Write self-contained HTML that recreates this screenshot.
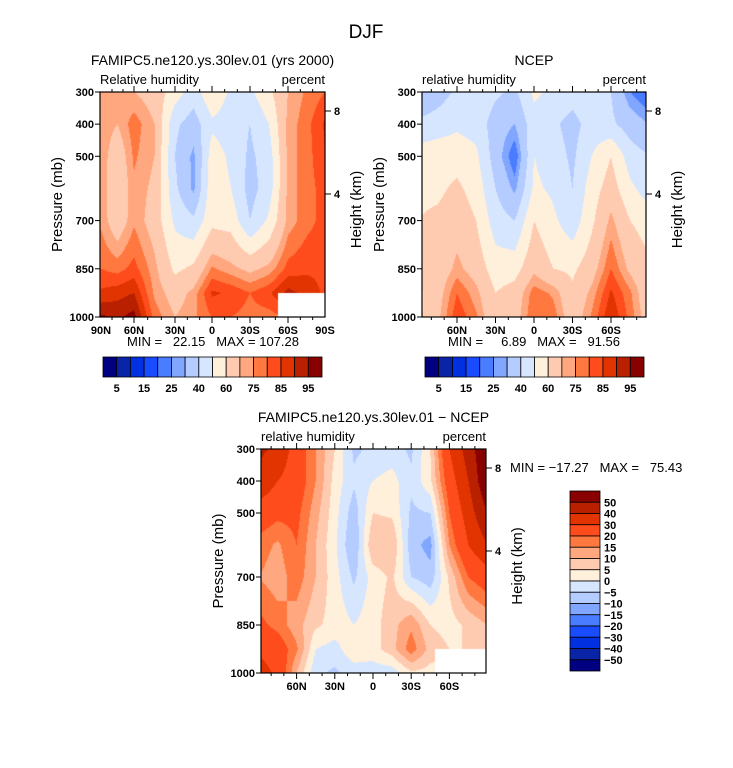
<!DOCTYPE html>
<html><head><meta charset="utf-8"><style>
body{margin:0;background:#fff;width:733px;height:768px;overflow:hidden;position:relative;font-family:"Liberation Sans",sans-serif}
canvas{position:absolute}
svg{position:absolute;left:0;top:0}
text{font-family:"Liberation Sans",sans-serif;fill:#000}
.pre{white-space:pre}
</style></head><body>
<canvas id="c1" width="225" height="225" style="left:100px;top:92px"></canvas>
<canvas id="c2" width="224" height="225" style="left:422px;top:92px"></canvas>
<canvas id="c3" width="225" height="224" style="left:261px;top:449px"></canvas>
<svg id="svg" width="733" height="768"></svg>
<script>
// ---- data ----
const lats = [90,75,60,45,30,15,0,-15,-30,-45,-60,-75,-90];
const levels = [300,400,500,600,700,850,925,1000];
const modelRH = [
 [74,72,70,66,55,45,58,48,48,58,70,76,80],
 [74,70,78,70,42,35,48,45,40,50,72,78,86],
 [74,64,76,70,40,28,55,48,38,45,72,78,84],
 [74,62,74,68,42,28,57,50,36,45,72,78,82],
 [74,64,74,66,48,42,57,56,40,52,72,78,82],
 [80,78,82,72,58,62,76,72,68,72,82,84,84],
 [86,88,90,74,66,72,86,84,80,84,92,88,84],
 [96,94,97,78,70,74,80,80,78,78,80,80,80]];
const ncepRH = [
 [30,35,42,48,42,38,52,48,45,50,40,25,18],
 [42,45,48,46,35,30,46,42,36,45,42,35,30],
 [55,56,56,52,35,20,50,45,38,50,60,45,40],
 [58,58,62,56,40,28,52,48,40,55,65,52,45],
 [60,62,66,60,45,40,60,52,44,58,72,60,55],
 [62,64,72,66,55,56,68,60,58,66,80,68,62],
 [58,66,80,72,60,64,78,74,62,72,86,76,62],
 [58,68,84,76,62,66,80,78,64,76,90,78,64]];
const diffRH = [
 [42,38,25,15,5,-6,-4,-3,-6,5,30,45,60],
 [38,30,25,15,3,-4,0,2,-4,4,25,40,60],
 [25,22,22,12,2,-8,5,4,-6,-5,20,35,50],
 [18,14,20,10,1,-10,10,10,-8,-12,15,30,40],
 [15,12,18,10,2,-6,2,6,-5,-8,6,20,25],
 [22,18,12,6,3,0,3,8,14,5,3,6,10],
 [28,25,16,0,-2,4,3,8,18,8,5,5,5],
 [35,28,10,-4,-6,-3,-3,-3,4,3,3,3,3]];
const rhThresholds = [5,10,15,20,25,30,40,50,60,70,75,80,85,90,95];
const diffThresholds = [-50,-40,-30,-20,-15,-10,-5,0,5,10,15,20,30,40,50];
const rhBarLabels = ['5','15','25','40','60','75','85','95'];
const diffBarLabels = ['50','40','30','20','15','10','5','0','\u22125','\u221210','\u221215','\u221220','\u221230','\u221240','\u221250'];
const missing1 = {lat0:-52, lat1:-90, p0:925, p1:1000};
const missing3 = {lat0:-49, lat1:-90, p0:925, p1:1000};
const colors = ['#000080','#0a24a8','#0030e0','#1a4cff','#4a7cff','#80a6ff','#b4ccff','#d6e6ff','#fff0dc','#ffcbb0','#ffa880','#ff7840','#ff4c1c','#e23400','#b82000','#880000'];

// ---- helpers ----
const SVGNS='http://www.w3.org/2000/svg';
const svg=document.getElementById('svg');
function el(tag,attrs,txt){const e=document.createElementNS(SVGNS,tag);for(const k in attrs)e.setAttribute(k,attrs[k]);if(txt!==undefined)e.textContent=txt;svg.appendChild(e);return e;}
function hex(c){return [parseInt(c.substr(1,2),16),parseInt(c.substr(3,2),16),parseInt(c.substr(5,2),16)];}
const rgb=colors.map(hex);
function interp(grid,lat,p){
  let i=0;while(i<lats.length-2&&lat<lats[i+1])i++;
  let fx=(lats[i]-lat)/(lats[i]-lats[i+1]);fx=Math.max(0,Math.min(1,fx));
  let j=0;while(j<levels.length-2&&p>levels[j+1])j++;
  let fy=(p-levels[j])/(levels[j+1]-levels[j]);fy=Math.max(0,Math.min(1,fy));
  const a=grid[j][i],b=grid[j][i+1],c=grid[j+1][i],d=grid[j+1][i+1];
  return a*(1-fx)*(1-fy)+b*fx*(1-fy)+c*(1-fx)*fy+d*fx*fy;
}
function level(v,th){let k=0;while(k<th.length&&v>=th[k])k++;return k;}
function paint(id,grid,th,xToLat,h,miss){
  const cv=document.getElementById(id),ctx=cv.getContext('2d');
  const W=cv.width,H=cv.height,img=ctx.createImageData(W,H);
  for(let y=0;y<H;y++){const p=300+700*(y+0.5)/H;
    for(let x=0;x<W;x++){const lat=xToLat(x+0.5);
      let col;
      if(miss&&lat<=miss.lat0&&p>=miss.p0)col=[255,255,255];
      else col=rgb[level(interp(grid,lat,p),th)];
      const o=(y*W+x)*4;img.data[o]=col[0];img.data[o+1]=col[1];img.data[o+2]=col[2];img.data[o+3]=255;}}
  ctx.putImageData(img,0,0);
}
const p1TickLat=[90,60,30,0,-30,-60,-90], p1TickX=[101,134,175,212,250,288,325];
function p1LatToX(lat){for(let i=0;i<6;i++){if(lat<=p1TickLat[i]&&lat>=p1TickLat[i+1]){const f=(p1TickLat[i]-lat)/30;return p1TickX[i]+f*(p1TickX[i+1]-p1TickX[i]);}}return 325;}
function p1XToLat(x){const X=x+100;for(let i=0;i<6;i++){if(X<=p1TickX[i+1]||i==5){const f=(X-p1TickX[i])/(p1TickX[i+1]-p1TickX[i]);return p1TickLat[i]-30*f;}}}
paint('c1',modelRH,rhThresholds,p1XToLat,225,missing1);
paint('c2',ncepRH,rhThresholds,x=>(534-(x+422))*30/38.5,225,null);
paint('c3',diffRH,diffThresholds,x=>(373-(x+261))*30/38.2,224,missing3);

function panel(o){
  const {x0,x1,y0,y1,latToX,xlabels,title,left,right,name}=o;
  const pY=p=>y0+(p-300)/700*(y1-y0);
  el('rect',{x:x0,y:y0,width:x1-x0,height:y1-y0,fill:'none',stroke:'#000','stroke-width':1.2,});
  el('text',{x:(x0+x1)/2,y:y0-27,'font-size':14,'text-anchor':'middle',},title);
  el('text',{x:x0,y:y0-8,'font-size':13,},left);
  el('text',{x:x1,y:y0-8,'font-size':13,'text-anchor':'end',},right);
  [300,400,500,700,850,1000].forEach(p=>{const y=pY(p);
    el('line',{x1:x0-5,y1:y,x2:x0,y2:y,stroke:'#000'});
    el('text',{x:x0-6,y:y+4,'font-size':11,'font-weight':'bold','text-anchor':'end',},p);});
  for(let lat=80;lat>=-80;lat-=10){const x=latToX(lat);if(x<x0||x>x1)continue;const maj=lat%30==0;
    el('line',{x1:x,y1:y0,x2:x,y2:y0-(maj?6:3),stroke:'#000'});
    el('line',{x1:x,y1:y1,x2:x,y2:y1+(maj?6:3),stroke:'#000'});}
  xlabels.forEach(([lat,t])=>el('text',{x:latToX(lat),y:y1+17,'font-size':11,'font-weight':'bold','text-anchor':'middle',},t));
  const hy=[[8,y0+19],[4,y0+102]];
  hy.forEach(([h,y])=>{el('line',{x1:x1,y1:y,x2:x1+6,y2:y,stroke:'#000'});
    el('text',{x:x1+9,y:y+4,'font-size':11,'font-weight':'bold',},h);});
  el('text',{transform:`translate(${x0-38},${(y0+y1)/2}) rotate(-90)`,'font-size':15,'text-anchor':'middle',},'Pressure (mb)');
  el('text',{transform:`translate(${x1+36},${(y0+y1)/2+5}) rotate(-90)`,'font-size':15,'text-anchor':'middle',},'Height (km)');
}
el('text',{x:366,y:38,'font-size':19,'text-anchor':'middle',},'DJF');
panel({x0:100,x1:325,y0:92,y1:317,latToX:p1LatToX,name:'model',title:'FAMIPC5.ne120.ys.30lev.01 (yrs 2000)',left:'Relative humidity',right:'percent',
  xlabels:[[90,'90N'],[60,'60N'],[30,'30N'],[0,'0'],[-30,'30S'],[-60,'60S'],[-90,'90S']]});
panel({x0:422,x1:646,y0:92,y1:317,latToX:l=>534-l*38.5/30,name:'ncep',title:'NCEP',left:'relative humidity',right:'percent',
  xlabels:[[60,'60N'],[30,'30N'],[0,'0'],[-30,'30S'],[-60,'60S']]});
panel({x0:261,x1:486,y0:449,y1:673,latToX:l=>373-l*38.2/30,name:'diff',title:'FAMIPC5.ne120.ys.30lev.01 \u2212 NCEP',left:'relative humidity',right:'percent',
  xlabels:[[60,'60N'],[30,'30N'],[0,'0'],[-30,'30S'],[-60,'60S']]});
el('text',{x:213,y:346,'font-size':13,'text-anchor':'middle','class':'pre',},'MIN =   22.15   MAX = 107.28');
el('text',{x:534,y:346,'font-size':13,'text-anchor':'middle','class':'pre',},'MIN =     6.89   MAX =   91.56');
el('text',{x:510,y:472,'font-size':13,'class':'pre',},'MIN = \u221217.27   MAX =   75.43');
function hbar(x0,name){const w=219/16;
  colors.forEach((c,i)=>el('rect',{x:x0+i*w,y:357,width:w,height:20,fill:c,stroke:'#000','stroke-width':0.8,}));
  rhBarLabels.forEach((t,k)=>el('text',{x:x0+(2*k+1)*w,y:392,'font-size':11,'font-weight':'bold','text-anchor':'middle',},t));}
hbar(103,'model-colorbar');hbar(425,'ncep-colorbar');
for(let i=0;i<16;i++)el('rect',{x:570,y:491+i*11.25,width:30,height:11.25,fill:colors[15-i],stroke:'#000','stroke-width':0.8,});
diffBarLabels.forEach((t,k)=>el('text',{x:604,y:491+(k+1)*11.25+4,'font-size':11,'font-weight':'bold',},t));
</script>
</body></html>
